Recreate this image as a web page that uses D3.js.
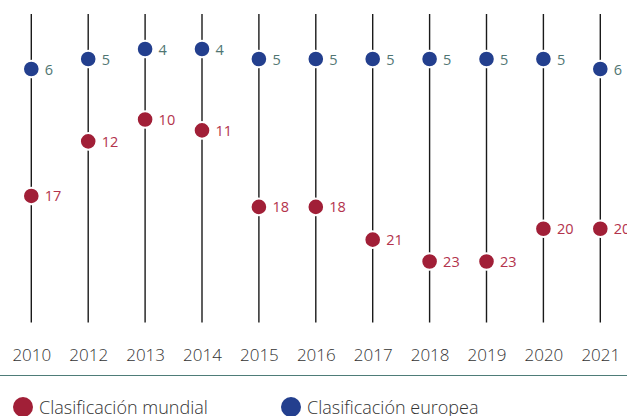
<!DOCTYPE html>
<html>
<head>
<meta charset="utf-8">
<script src="https://d3js.org/d3.v7.min.js"></script>
<style>
  body { margin: 0; background: #fff; }
  svg { display: block; font-family: "Open Sans", sans-serif; }
</style>
</head>
<body>
<div id="my_dataviz"></div>
<script>
// data
var years = ["2010", "2012", "2013", "2014", "2015", "2016", "2017", "2018", "2019", "2020", "2021"];
var mundial = [17, 12, 10, 11, 18, 18, 21, 23, 23, 20, 20];
var europea = [6, 5, 4, 4, 5, 5, 5, 5, 5, 5, 6];
var legendLabels = ["Clasificación mundial", "Clasificación europea"];

var width = 627, height = 416;
var red = "#a11f37", blue = "#233f8e";

var svg = d3.select("#my_dataviz")
  .append("svg")
    .attr("width", width)
    .attr("height", height);

// scales
var x = d3.scalePoint()
    .domain(years)
    .range([31.3, 600.3]);

// world and european rankings sit on slightly different vertical scales
var yMun = d3.scaleLinear().domain([10, 23]).range([119.5, 261.5]);
var yEur = d3.scaleLinear().domain([4, 6]).range([49, 69]);

// vertical lines
svg.append("g")
  .selectAll("line")
  .data(years)
  .enter()
  .append("line")
    .attr("x1", function(d) { return x(d); })
    .attr("x2", function(d) { return x(d); })
    .attr("y1", 14)
    .attr("y2", 322.5)
    .style("stroke", "#1a1a1a")
    .style("stroke-width", 1.4);

// year labels (axis)
var xAxis = svg.append("g")
    .attr("transform", "translate(0,361)")
    .call(d3.axisBottom(x).tickSize(0).tickPadding(0));
xAxis.select(".domain").remove();
xAxis.selectAll("text")
    .attr("y", 0)
    .attr("dy", 0)
    .style("font-family", "Open Sans")
    .style("font-weight", 300)
    .style("font-size", "17px")
    .style("fill", "#333");

// base rule
svg.append("line")
    .attr("x1", 0).attr("x2", width)
    .attr("y1", 375.5).attr("y2", 375.5)
    .style("stroke", "#4e7c78")
    .style("stroke-width", 1.2);

function addSeries(values, yScale, fill, labelFill) {
  var g = svg.append("g");
  var pts = years.map(function(d, i) { return {year: d, v: values[i]}; });
  g.selectAll("circle")
    .data(pts)
    .enter()
    .append("circle")
      .attr("cx", function(d) { return x(d.year); })
      .attr("cy", function(d) { return yScale(d.v); })
      .attr("r", 8.3)
      .style("fill", fill)
      .style("stroke", "#fff")
      .style("stroke-width", 2);
  g.selectAll("text")
    .data(pts)
    .enter()
    .append("text")
      .attr("x", function(d) { return x(d.year) + 13.5; })
      .attr("y", function(d) { return yScale(d.v) + 5.5; })
      .text(function(d) { return d.v; })
      .style("font-size", "14.5px")
      .style("fill", labelFill);
}

addSeries(mundial, yMun, red, "#b3334c");
addSeries(europea, yEur, blue, "#4f7572");

// legend
var legend = svg.append("g")
  .selectAll("g")
  .data([{label: legendLabels[0], color: red, x: 23}, {label: legendLabels[1], color: blue, x: 291}])
  .enter()
  .append("g")
    .attr("transform", function(d) { return "translate(" + d.x + ",407)"; });
legend.append("circle")
    .attr("r", 10)
    .style("fill", function(d) { return d.color; });
legend.append("text")
    .attr("x", 16)
    .attr("y", 7)
    .text(function(d) { return d.label; })
    .style("font-size", "18px")
    .style("font-weight", 300)
    .style("fill", "#333");
</script>
</body>
</html>
